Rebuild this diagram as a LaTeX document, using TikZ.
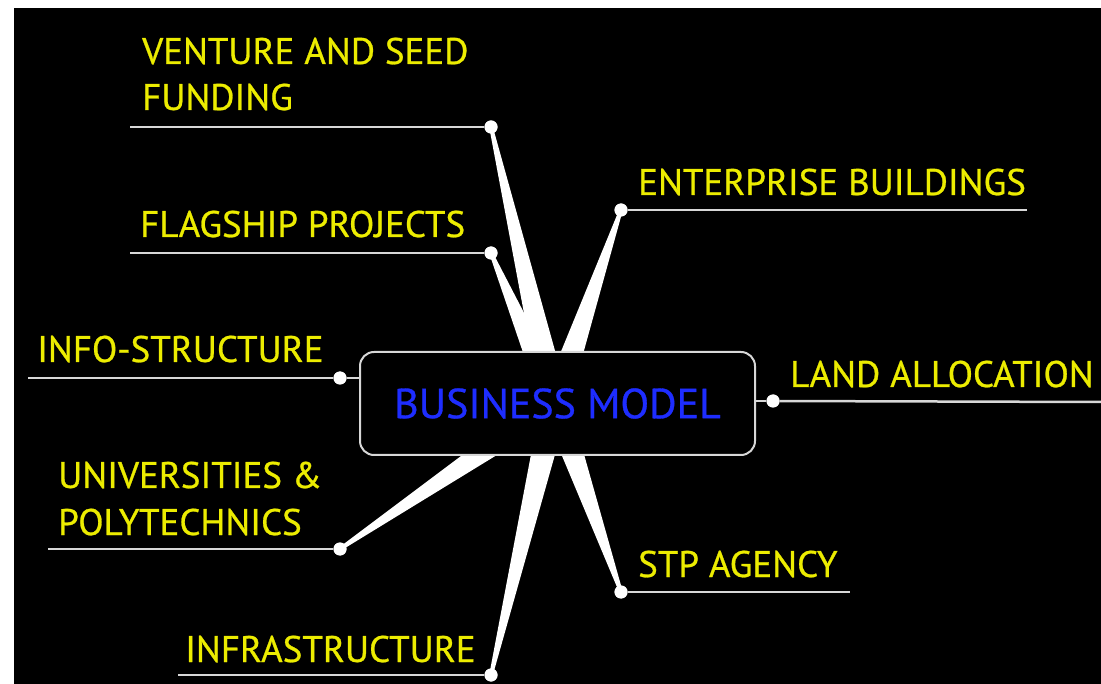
\documentclass[tikz,border=0pt]{standalone}
\usepackage{fontspec}
\setmainfont{PT Sans}
\newfontfamily\lblfont{PT Sans}[FakeBold=0.7]
\usetikzlibrary{calc}
\definecolor{lblyellow}{RGB}{236,236,0}
\definecolor{mblue}{RGB}{30,45,255}
\definecolor{linegray}{RGB}{215,215,215}
\newcommand\mkspoke[1]{\fill[white] ($(c)!14pt!90:(#1)$) -- ($(#1)!1.8pt!-90:(c)$) -- ($(#1)!1.8pt!90:(c)$) -- ($(c)!14pt!-90:(#1)$) -- cycle;}
\begin{document}
\begin{tikzpicture}[x=1pt,y=-1pt,
  lbl/.style={text=lblyellow,font=\lblfont\fontsize{37}{37}\selectfont,anchor=base west,inner sep=0pt},
  uline/.style={draw=linegray,line width=2.5pt},
  conn/.style={draw=linegray,line width=2.5pt},
  dotst/.style={circle,fill=white,minimum size=13pt,inner sep=0pt},
  mainbox/.style={draw=linegray,line width=2pt,fill=black,rounded corners=14pt,minimum width=395pt,minimum height=103pt,inner sep=0pt,text=mblue,font=\lblfont\fontsize{42}{42}\selectfont}]
\useasboundingbox (0,0) rectangle (1101,684);
\fill[white] (0,0) rectangle (1101,684);
\fill[black] (14,8) rectangle (1101,684);
\coordinate (c) at (555,403);
% dots
\node[dotst] (dV) at (491,127) {};
\node[dotst] (dF) at (491,253) {};
\node[dotst] (dE) at (621,210) {};
\node[dotst] (dI) at (340,378) {};
\node[dotst] (dL) at (773,401) {};
\node[dotst] (dU) at (340,549) {};
\node[dotst] (dR) at (491,675) {};
\node[dotst] (dS) at (621,592) {};
% spokes
\mkspoke{dV}
\mkspoke{dF}
\mkspoke{dE}
\mkspoke{dU}
\mkspoke{dR}
\mkspoke{dS}
% underline ends
\coordinate (lV) at (130,127);
\coordinate (lF) at (130,253);
\coordinate (lE) at (1027,210);
\coordinate (lI) at (28,378);
\coordinate (lL) at (1101,402);
\coordinate (lU) at (48,549);
\coordinate (lR) at (178,675);
\coordinate (lS) at (850,592);
\draw[uline] (lV) -- (dV);
\draw[uline] (lF) -- (dF);
\draw[uline] (dE) -- (lE);
\draw[uline] (lI) -- (dI);
\draw[uline] (dL) -- (lL);
\draw[uline] (lU) -- (dU);
\draw[uline] (lR) -- (dR);
\draw[uline] (dS) -- (lS);
% central box
\node[mainbox] (box) at (557.5,403.5) {BUSINESS MODEL};
\draw[conn] (dI) -- (dI -| box.west);
\draw[conn] (dL) -- (dL -| box.east);
% redraw dots on top
\node[dotst] at (dV) {};
\node[dotst] at (dF) {};
\node[dotst] at (dE) {};
\node[dotst] at (dI) {};
\node[dotst] at (dL) {};
\node[dotst] at (dU) {};
\node[dotst] at (dR) {};
\node[dotst] at (dS) {};
% labels
\node[lbl] (tV1) at (142,64) {VENTURE AND SEED};
\node[lbl] (tV2) at (142,110) {FUNDING};
\node[lbl] (tF) at (140,237) {FLAGSHIP PROJECTS};
\node[lbl] (tE) at (638,195) {ENTERPRISE BUILDINGS};
\node[lbl] (tI) at (37,362) {INFO-STRUCTURE};
\node[lbl] (tL) at (790,387) {LAND ALLOCATION};
\node[lbl] (tU1) at (58,488) {UNIVERSITIES \&};
\node[lbl] (tU2) at (58,535) {POLYTECHNICS};
\node[lbl] (tS) at (638,577) {STP AGENCY};
\node[lbl] (tR) at (185,662) {INFRASTRUCTURE};
\end{tikzpicture}
\end{document}
